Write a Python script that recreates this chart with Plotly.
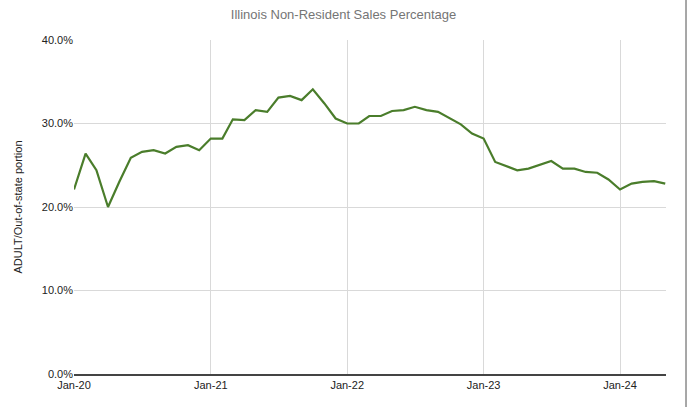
import plotly.graph_objects as go
import pandas as pd

months = pd.date_range("2020-01-01", "2024-05-01", freq="MS")
values = [
    22.1, 26.4, 24.4, 20.0, 23.0, 25.9, 26.6, 26.8, 26.4, 27.2, 27.4, 26.8,
    28.2, 28.2, 30.5, 30.4, 31.6, 31.4, 33.1, 33.3, 32.8, 34.1, 32.4, 30.6,
    30.0, 30.0, 30.9, 30.9, 31.5, 31.6, 32.0, 31.6, 31.4, 30.7, 29.9, 28.8,
    28.2, 25.4, 24.9, 24.4, 24.6, 25.1, 25.5, 24.6, 24.6, 24.2, 24.1, 23.3,
    22.1, 22.8, 23.0, 23.1, 22.8,
]
share = [v / 100 for v in values]

y_ticks = [0, 0.1, 0.2, 0.3, 0.4]
x_ticks = pd.to_datetime(["2020-01-01", "2021-01-01", "2022-01-01", "2023-01-01", "2024-01-01"])
x_tick_labels = ["Jan-20", "Jan-21", "Jan-22", "Jan-23", "Jan-24"]

font_family = "Liberation Sans, Arial, sans-serif"

fig = go.Figure()
fig.add_trace(go.Scatter(
    x=months, y=share, mode="lines",
    line=dict(color="#4a7d2b", width=2.2),
    hovertemplate="%{x|%b-%y}: %{y:.1%}<extra></extra>",
))

fig.update_layout(
    width=687, height=407,
    margin=dict(l=74, r=21, t=40, b=33),
    paper_bgcolor="white", plot_bgcolor="white",
    showlegend=False,
    font=dict(family=font_family, size=11, color="#222222"),
    title=dict(
        text="Illinois Non-Resident Sales Percentage",
        x=0.5, xanchor="center", y=0.965, yanchor="middle",
        font=dict(family=font_family, size=13, color="#757575"),
    ),
    xaxis=dict(
        range=[pd.Timestamp("2020-01-01"), pd.Timestamp("2024-05-03")],
        tickvals=x_ticks, ticktext=x_tick_labels,
        showgrid=True, gridcolor="#d9d9d9", gridwidth=1,
        showline=True, linecolor="#444444", linewidth=1.5,
        zeroline=False, ticks="", ticklen=0,
        tickfont=dict(size=11, color="#222222"),
    ),
    yaxis=dict(
        range=[0, 0.4],
        tickvals=y_ticks, tickformat=".1%",
        showgrid=True, gridcolor="#d9d9d9", gridwidth=1,
        zeroline=False, showline=False, ticks="", ticklen=0,
        tickfont=dict(size=11, color="#222222"),
        title=dict(text="ADULT/Out-of-state portion", font=dict(size=11, color="#222222"), standoff=16),
    ),
    shapes=[dict(
        type="line", xref="paper", yref="paper",
        x0=1.0338, x1=1.0338, y0=-0.12, y1=1.15,
        line=dict(color="#8a8a8a", width=1.5),
    )],
)

fig.write_html(
    "out.html",
    config={"displayModeBar": False},
    post_script="document.body.style.margin='0';document.body.style.overflow='hidden';",
)
